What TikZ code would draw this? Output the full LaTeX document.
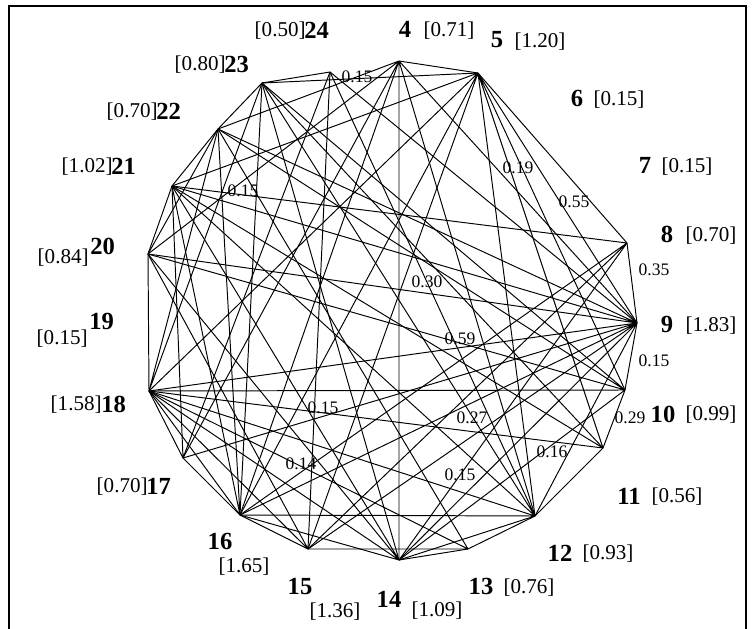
\documentclass[tikz,border=0pt]{standalone}
\usepackage{fontspec}
\setmainfont{Liberation Serif}
\usepackage{tikz}

\begin{document}
\begin{tikzpicture}[x=0.02cm, y=-0.02cm,
  edge/.style={line width=0.55pt},
  num/.style={font=\fontsize{14}{16}\selectfont\bfseries, inner sep=0pt},
  wt/.style={font=\fontsize{12}{14}\selectfont, inner sep=0pt},
  elab/.style={font=\fontsize{10}{12}\selectfont, inner sep=0pt}
]
\useasboundingbox (0,0) rectangle (752,629);
\clip (0,0) rectangle (752,629);
\draw[line width=0.8pt] (9,6) rectangle (746,700);

% vertices
\coordinate (v4) at (399,61);
\coordinate (v5) at (478,73);
\coordinate (v8) at (627,243);
\coordinate (v9) at (637,323);
\coordinate (v10) at (625,390);
\coordinate (v11) at (603,448);
\coordinate (v12) at (535,516);
\coordinate (v13) at (468,549);
\coordinate (v14) at (399,560);
\coordinate (v15) at (308,549);
\coordinate (v16) at (240,515);
\coordinate (v17) at (183,458);
\coordinate (v18) at (149,391);
\coordinate (v20) at (148,254);
\coordinate (v21) at (172,186);
\coordinate (v22) at (218,129);
\coordinate (v23) at (262,83);
\coordinate (v24) at (330,72);

% outer ring
\draw[edge] (v4) -- (v5) -- (v8) -- (v9) -- (v10) -- (v11) -- (v12) -- (v13) -- (v14);
\draw[edge] (v15) -- (v16) -- (v17) -- (v18) -- (v20) -- (v21) -- (v22) -- (v23) -- (v24);

% chords
\draw[edge] (v4) -- (v14) (v4) -- (v16) (v4) -- (v17) (v4) -- (v9) (v4) -- (v12) (v4) -- (v20) (v4) -- (v22);
\draw[edge] (v5) -- (v9) (v5) -- (v10) (v5) -- (v11) (v5) -- (v12) (v5) -- (v15) (v5) -- (v16) (v5) -- (v18) (v5) -- (v21) (v5) -- (v23);
\draw[edge] (v9) -- (v24) (v9) -- (v22) (v9) -- (v21) (v9) -- (v20) (v9) -- (v18) (v9) -- (v17) (v9) -- (v16) (v9) -- (v15) (v9) -- (v14) (v9) -- (v12);
\draw[edge] (v8) -- (v15) (v8) -- (v14) (v8) -- (v16) (v8) -- (v21);
\draw[edge] (v10) -- (v18) (v10) -- (v20) (v10) -- (v22) (v10) -- (v23) (v10) -- (v14);
\draw[edge] (v11) -- (v21) (v11) -- (v18) (v11) -- (v23);
\draw[edge] (v12) -- (v16) (v12) -- (v18) (v12) -- (v21) (v12) -- (v14) (v12) -- (v24) (v12) -- (v23);
\draw[edge] (v13) -- (v15) (v13) -- (v18) (v13) -- (v22);
\draw[edge] (v14) -- (v16) (v14) -- (v18) (v14) -- (v20) (v14) -- (v21) (v14) -- (v23);
\draw[edge] (v15) -- (v20) (v15) -- (v24) (v15) -- (v18);
\draw[edge] (v16) -- (v18) (v16) -- (v21) (v16) -- (v22) (v16) -- (v23);
\draw[edge] (v17) -- (v21) (v17) -- (v24);
\draw[edge] (v18) -- (v22) (v18) -- (v23);
\draw[edge] (v20) -- (v22);

% vertex numbers and weights
\node[num] (n4) at (405,29) {4};   \node[wt] (w4) at (449,31) {[0.71]};
\node[num] (n5) at (497,40) {5};   \node[wt] (w5) at (540,42) {[1.20]};
\node[num] (n6) at (577,98) {6};   \node[wt] (w6) at (619,100) {[0.15]};
\node[num] (n7) at (645,165) {7};  \node[wt] (w7) at (687,167) {[0.15]};
\node[num] (n8) at (667,234) {8};  \node[wt] (w8) at (711,236) {[0.70]};
\node[num] (n9) at (667,324) {9};  \node[wt] (w9) at (711,326) {[1.83]};
\node[num] (n10) at (663,414) {10}; \node[wt] (w10) at (711,415) {[0.99]};
\node[num] (n11) at (629,496) {11}; \node[wt] (w11) at (677,497) {[0.56]};
\node[num] (n12) at (560,553) {12}; \node[wt] (w12) at (608,554) {[0.93]};
\node[num] (n13) at (481,586) {13}; \node[wt] (w13) at (529,588) {[0.76]};
\node[num] (n14) at (389,599) {14}; \node[wt] (w14) at (437,611) {[1.09]};
\node[num] (n15) at (300,586) {15}; \node[wt] (w15) at (335,612) {[1.36]};
\node[num] (n16) at (220,541) {16}; \node[wt] (w16) at (244,567) {[1.65]};
\node[num, anchor=west] (n17) at (146,486) {17}; \node[wt, anchor=east] (w17) at (148,487) {[0.70]};
\node[num, anchor=west] (n18) at (101,404) {18}; \node[wt, anchor=east] (w18) at (102,405) {[1.58]};
\node[num, anchor=west] (n19) at (89,321) {19};  \node[wt, anchor=east] (w19) at (88,339) {[0.15]};
\node[num, anchor=west] (n20) at (90,246) {20};  \node[wt, anchor=east] (w20) at (89,258) {[0.84]};
\node[num, anchor=west] (n21) at (111,166) {21}; \node[wt, anchor=east] (w21) at (113,167) {[1.02]};
\node[num, anchor=west] (n22) at (156,111) {22}; \node[wt, anchor=east] (w22) at (158,112) {[0.70]};
\node[num, anchor=west] (n23) at (224,64) {23};  \node[wt, anchor=east] (w23) at (226,65) {[0.80]};
\node[num, anchor=west] (n24) at (304,30) {24};  \node[wt, anchor=east] (w24) at (306,31) {[0.50]};

% edge weights
\node[elab] (e1) at (357,77) {0.15};
\node[elab] (e2) at (518,168) {0.19};
\node[elab] (e3) at (574,202) {0.55};
\node[elab] (e4) at (243,191) {0.15};
\node[elab] (e5) at (654,270) {0.35};
\node[elab] (e6) at (427,282) {0.30};
\node[elab] (e7) at (460,339) {0.59};
\node[elab] (e8) at (654,361) {0.15};
\node[elab] (e9) at (630,418) {0.29};
\node[elab] (e10) at (472,418) {0.27};
\node[elab] (e11) at (323,408) {0.15};
\node[elab] (e12) at (301,464) {0.14};
\node[elab] (e13) at (552,452) {0.16};
\node[elab] (e14) at (460,475) {0.15};
\end{tikzpicture}
\end{document}
